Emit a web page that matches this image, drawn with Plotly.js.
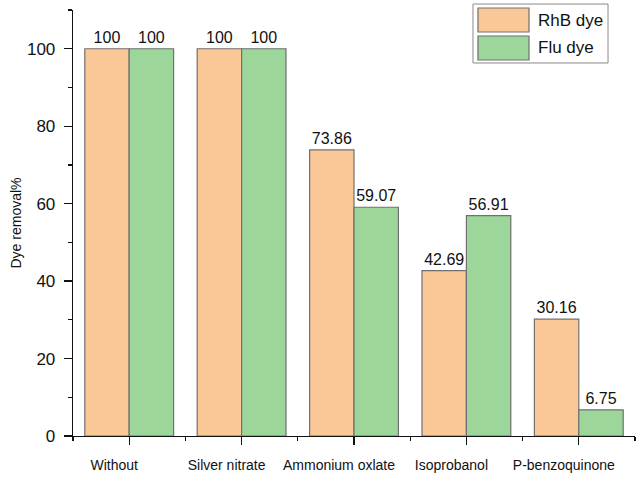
<!DOCTYPE html>
<html>
<head>
<meta charset="utf-8">
<script src="https://cdn.plot.ly/plotly-3.0.1.min.js"></script>
<style>html,body{margin:0;padding:0;background:#fff;}#chart{width:641px;height:482px;}</style>
</head>
<body>
<div id="chart"></div>
<script>
const categories = ["Without", "Silver nitrate", "Ammonium oxlate", "Isoprobanol", "P-benzoquinone"];
const seriesNames = ["RhB dye", "Flu dye"];
const rhbValues = [100, 100, 73.86, 42.69, 30.16];
const fluValues = [100, 100, 59.07, 56.91, 6.75];
const rhbLabels = ["100", "100", "73.86", "42.69", "30.16"];
const fluLabels = ["100", "100", "59.07", "56.91", "6.75"];
const yTickVals = [0, 20, 40, 60, 80, 100];

const colors = ["#FAC796", "#9DD69A"];
const edge = "#707070";
const font = "Arial, 'Liberation Sans', sans-serif";
const xIdx = categories.map((_, i) => i);

function barTrace(name, vals, labels, color) {
  return {
    type: "bar", name: name, x: xIdx, y: vals,
    text: labels, textposition: "outside", cliponaxis: false,
    textfont: {family: font, size: 16, color: "#111"},
    marker: {color: color, line: {color: edge, width: 1.2}},
    hoverinfo: "x+y", showlegend: false
  };
}

const data = [
  barTrace(seriesNames[0], rhbValues, rhbLabels, colors[0]),
  barTrace(seriesNames[1], fluValues, fluLabels, colors[1])
];

// custom legend (large swatches)
const lg = {x0: 0.7117, x1: 0.952, y0: 0.8756, y1: 1.014, sx0: 0.7206, sx1: 0.8114, tx: 0.8238};
const rows = [{y0: 0.9484, y1: 1.0047, ty: 0.9765}, {y0: 0.8826, y1: 0.939, ty: 0.9108}];
const shapes = [{type: "rect", xref: "paper", yref: "paper", x0: lg.x0, x1: lg.x1, y0: lg.y0, y1: lg.y1,
  line: {color: "#8a8a8a", width: 1}, fillcolor: "#fff", layer: "above"}];
const annotations = [];
seriesNames.forEach((n, i) => {
  shapes.push({type: "rect", xref: "paper", yref: "paper", x0: lg.sx0, x1: lg.sx1, y0: rows[i].y0, y1: rows[i].y1,
    line: {color: edge, width: 1.2}, fillcolor: colors[i], layer: "above"});
  annotations.push({xref: "paper", yref: "paper", x: lg.tx, y: rows[i].ty, text: n, showarrow: false,
    xanchor: "left", yanchor: "middle", font: {family: font, size: 17, color: "#111"}});
});

const layout = {
  width: 641, height: 482,
  margin: {l: 73, r: 6, t: 10, b: 46},
  paper_bgcolor: "#fff", plot_bgcolor: "#fff",
  barmode: "group", bargap: 0.21, bargroupgap: 0,
  font: {family: font, color: "#111"},
  xaxis: {
    range: [-0.5, 4.5], tickmode: "array", tickvals: xIdx, ticktext: categories,
    ticks: "outside", ticklen: 8, tickwidth: 1.3, tickcolor: "#111",
    ticklabelshift: -15, ticklabelstandoff: 8,
    tickfont: {family: font, size: 14, color: "#111"},
    showline: true, linecolor: "#111", linewidth: 1.3, showgrid: false, zeroline: false,
    minor: {tickmode: "array", tickvals: [-0.5, 0.5, 1.5, 2.5, 3.5, 4.5], ticks: "outside", ticklen: 4, tickwidth: 1.3, tickcolor: "#111", showgrid: false}
  },
  yaxis: {
    range: [0, 110], tickmode: "array", tickvals: yTickVals,
    ticks: "outside", ticklen: 8, tickwidth: 1.3, tickcolor: "#111",
    ticklabelstandoff: 5,
    tickfont: {family: font, size: 17, color: "#111"},
    showline: true, linecolor: "#111", linewidth: 1.3, showgrid: false, zeroline: false,
    minor: {dtick: 10, tick0: 0, ticks: "outside", ticklen: 4, tickwidth: 1.3, tickcolor: "#111", showgrid: false},
    title: {text: "Dye removal%", font: {family: font, size: 14, color: "#111"}, standoff: 2}
  },
  shapes: shapes,
  annotations: annotations
};

Plotly.newPlot("chart", data, layout, {staticPlot: true, displayModeBar: false});
</script>
</body>
</html>
